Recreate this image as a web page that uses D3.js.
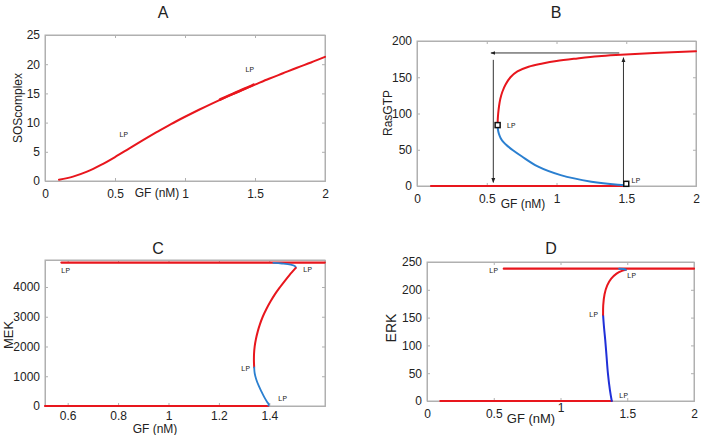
<!DOCTYPE html>
<html><head><meta charset="utf-8">
<script src="https://cdn.jsdelivr.net/npm/d3@7"></script>
<style>
body{margin:0;background:#fff}
svg{display:block}
text{font-family:"Liberation Sans",Arial,sans-serif;fill:#222}
.lp{font-family:"Open Sans",sans-serif;font-size:8px;fill:#222}
</style></head>
<body>
<svg id="c" width="702" height="435"></svg>
<script>
// ---------- DATA ----------
// Panel A: SOScomplex vs GF
const aGF  = [0.1,0.2,0.3,0.4,0.5,0.6,0.7,0.8,0.9,1.0,1.1,1.2,1.3,1.4,1.5,1.6,1.7,1.8,1.9,2.0];
const aSOS = [0.2,0.75,1.6,2.75,4.1,5.55,7.0,8.4,9.75,11.0,12.2,13.35,14.45,15.5,16.5,17.5,18.45,19.4,20.3,21.25];
const aFoldGF  = [1.25,1.32,1.4,1.46,1.49];
const aFoldSOS = [13.95,14.7,15.55,16.15,16.5];
const aLP  = [[0.53,7.6],[1.43,18.6]];
const aXTicks = [0,0.5,1,1.5,2];
const aYTicks = [0,5,10,15,20,25];

// Panel B: RasGTP vs GF
const bLowGF  = [0.1,0.5,1.0,1.5];
const bLowRas = [0,0,0,0];
const bUnsGF  = [0.578,0.58,0.587,0.60,0.62,0.65,0.69,0.75,0.865,1.03,1.25,1.44,1.5];
const bUnsRas = [84,78,72,66,60.5,55,49,41,27,15,6,1.8,1.2];
const bUpGF   = [0.578,0.579,0.582,0.588,0.597,0.612,0.635,0.67,0.72,0.80,0.90,1.0,1.15,1.3,1.46,1.7,2.0];
const bUpRas  = [84,92,100,110,120,130,140,150,158,164.5,169,172.5,176,179,181,183.5,186];
const bLPPts  = [[0.578,84],[1.5,3]];
const bArrows = [[[0.547,174],[0.547,5]],[[1.45,183.5],[0.53,183.5]],[[1.48,2],[1.48,177]]];
const bXTicks = [0,0.5,1,1.5,2];
const bYTicks = [0,50,100,150,200];

// Panel C: MEK vs GF
const cLowGF  = [0.51,1.0,1.396];
const cLowMEK = [0,0,0];
const cTopGF  = [0.575,1.0,1.62];
const cTopMEK = [4820,4820,4820];
const cUns1GF  = [1.416,1.45,1.485,1.503,1.505];
const cUns1MEK = [4810,4790,4750,4690,4640];
const cStabGF  = [1.505,1.48,1.461,1.443,1.422,1.404,1.388,1.374,1.363,1.354,1.347,1.342,1.3394,1.339,1.34];
const cStabMEK = [4640,4400,4200,4000,3750,3500,3250,3000,2750,2500,2250,2000,1750,1500,1300];
const cUns2GF  = [1.34,1.342,1.348,1.357,1.368,1.38,1.392,1.398,1.396];
const cUns2MEK = [1300,1100,900,700,500,300,130,60,15];
const cXTicks = [0.6,0.8,1,1.2,1.4];
const cYTicks = [0,1000,2000,3000,4000];

// Panel D: ERK vs GF
const dLowGF  = [0.1,1.0,1.384];
const dLowERK = [0,0,0];
const dTopGF  = [0.575,1.3,2.0];
const dTopERK = [238,238,238];
const dUns1GF  = [1.384,1.37,1.355,1.345,1.335,1.325,1.319];
const dUns1ERK = [0,20,50,80,110,135,155];
const dStabGF  = [1.319,1.32,1.33,1.35,1.38,1.42,1.46,1.49];
const dStabERK = [155,172,192,208,220,229,234,236];
const dUns2GF  = [1.44,1.47,1.49];
const dUns2ERK = [238,237.5,236];
const dXTicks = [0,0.5,1,1.5,2];
const dYTicks = [0,50,100,150,200,250];

const RED = "#e8161d", BLUE = "#2a7fd0", DBLUE = "#2030d8";

// ---------- DRAW ----------
const svg = d3.select("#c");

function panel(o){
  const x = d3.scaleLinear().domain(o.xd).range([o.l,o.r]);
  const y = d3.scaleLinear().domain(o.yd).range([o.b,o.t]);
  const g = svg.append("g");
  g.append("rect").attr("x",o.l).attr("y",o.t).attr("width",o.r-o.l).attr("height",o.b-o.t)
    .attr("fill","none").attr("stroke","#b0b0b0").attr("stroke-width",1);
  const fmt = d => d3.format("")(d);
  const ax = g.append("g").attr("transform",`translate(0,${o.b})`)
    .call(d3.axisBottom(x).tickValues(o.xt).tickSize(-3).tickPadding(o.xpad||8).tickFormat(fmt));
  const ay = g.append("g").attr("transform",`translate(${o.l},0)`)
    .call(d3.axisLeft(y).tickValues(o.yt).tickSize(-3).tickPadding(5).tickFormat(fmt));
  const at = g.append("g").attr("transform",`translate(0,${o.t})`)
    .call(d3.axisTop(x).tickValues(o.xt).tickSize(-3).tickFormat(""));
  const ar = g.append("g").attr("transform",`translate(${o.r},0)`)
    .call(d3.axisRight(y).tickValues(o.yt).tickSize(-3).tickFormat(""));
  [ax,ay,at,ar].forEach(a=>{
    a.select(".domain").attr("stroke","#b0b0b0");
    a.selectAll(".tick line").attr("stroke","#b0b0b0");
    a.selectAll(".tick text").attr("font-size",o.fs||12).attr("fill","#222")
      .attr("font-family","Liberation Sans, Arial, sans-serif");
  });
  g.append("text").attr("x",o.titleX).attr("y",o.titleY).attr("text-anchor","middle")
    .attr("font-size",16).attr("font-family","Open Sans, sans-serif").text(o.title);
  g.append("text").attr("x",o.xlX).attr("y",o.xlY).attr("text-anchor","middle")
    .attr("font-size",o.xlfs||12).text("GF (nM)");
  g.append("text").attr("transform",`translate(${o.ylX},${o.ylY}) rotate(-90)`)
    .attr("text-anchor","middle").attr("font-size",o.ylfs||12).text(o.ylabel);
  return {x,y,g,ax};
}

function curve(p, xs, ys, color, w){
  const pts = xs.map((v,i)=>[v,ys[i]]);
  p.g.append("path").datum(pts)
    .attr("d", d3.line().x(d=>p.x(d[0])).y(d=>p.y(d[1])).curve(d3.curveCatmullRom.alpha(0.5)))
    .attr("fill","none").attr("stroke",color).attr("stroke-width",w||2)
    .attr("stroke-linecap","round");
}
function lp(p, px, py){
  p.g.append("text").attr("class","lp").attr("x",px).attr("y",py).text("LP");
}

// Panel A
const A = panel({l:45,r:325,t:35,b:181,xd:[0,2],yd:[0,25],xt:aXTicks,yt:aYTicks,
  title:"A",titleX:163,titleY:18,xlX:157,xlY:197,ylX:22,ylY:108,ylabel:"SOScomplex"});
curve(A, aGF, aSOS, RED, 2);
curve(A, aFoldGF, aFoldSOS, RED, 2.6);
lp(A, A.x(aLP[0][0]), A.y(aLP[0][1]));
lp(A, A.x(aLP[1][0]), A.y(aLP[1][1]));

// Panel B
const B = panel({l:417,r:696,t:41,b:186,xd:[0,2],yd:[0,200],xt:bXTicks,yt:bYTicks,
  title:"B",titleX:556,titleY:18,xlX:523,xlY:208,ylX:392,ylY:113,ylabel:"RasGTP"});
const defs = svg.append("defs");
defs.append("marker").attr("id","ah").attr("viewBox","0 0 10 10").attr("refX",9).attr("refY",5)
  .attr("markerWidth",5).attr("markerHeight",5).attr("orient","auto")
  .append("path").attr("d","M0,1 L10,5 L0,9 Z").attr("fill","#222");
bArrows.forEach(a=>{
  B.g.append("line").attr("x1",B.x(a[0][0])).attr("y1",B.y(a[0][1]))
    .attr("x2",B.x(a[1][0])).attr("y2",B.y(a[1][1]))
    .attr("stroke","#333").attr("stroke-width",1).attr("marker-end","url(#ah)");
});
curve(B, bLowGF, bLowRas, RED, 2);
curve(B, bUnsGF, bUnsRas, BLUE, 2);
curve(B, bUpGF, bUpRas, RED, 2);
bLPPts.forEach(d=>{
  B.g.append("rect").attr("x",B.x(d[0])-2.5).attr("y",B.y(d[1])-2.5).attr("width",5).attr("height",5)
    .attr("fill","#fff").attr("stroke","#111").attr("stroke-width",1.5);
});
lp(B, B.x(bLPPts[0][0])+9, B.y(bLPPts[0][1])+3);
lp(B, B.x(bLPPts[1][0])+5, B.y(bLPPts[1][1])-1);

// Panel C
const C = panel({l:45,r:325,t:260,b:406,xd:[0.51,1.621],yd:[0,4907],xt:cXTicks,yt:cYTicks,xpad:5,
  title:"C",titleX:158,titleY:254,xlX:155,xlY:433,ylX:13,ylY:335,ylabel:"MEK",ylfs:13});
curve(C, cLowGF, cLowMEK, RED, 2.2);
curve(C, cTopGF, cTopMEK, RED, 2.2);
curve(C, cUns1GF, cUns1MEK, BLUE, 1.8);
curve(C, cStabGF, cStabMEK, RED, 2);
curve(C, cUns2GF, cUns2MEK, BLUE, 1.8);
lp(C, 61, 273); lp(C, 303, 272); lp(C, 241, 371); lp(C, 278, 401);

// Panel D
const D = panel({l:427,r:694,t:262,b:401,xd:[0,2],yd:[0,250],xt:dXTicks,yt:dYTicks,
  title:"D",titleX:551,titleY:254,xlX:531,xlY:423,ylX:396,ylY:328,ylabel:"ERK",ylfs:14,xlfs:13,fs:12});
D.ax.selectAll(".tick text").filter(d=>d===1).attr("y",2);
curve(D, dLowGF, dLowERK, RED, 2.2);
curve(D, dTopGF, dTopERK, RED, 2.2);
curve(D, dUns1GF, dUns1ERK, DBLUE, 2);
curve(D, dStabGF, dStabERK, RED, 2);
curve(D, dUns2GF, dUns2ERK, BLUE, 2);
lp(D, 489, 273); lp(D, 627, 278); lp(D, 589, 317); lp(D, 619, 398);
</script>
</body></html>
